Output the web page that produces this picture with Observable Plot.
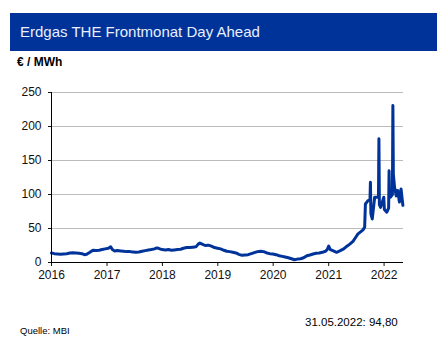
<!DOCTYPE html>
<html>
<head>
<meta charset="utf-8">
<script src="https://cdn.jsdelivr.net/npm/d3@7"></script>
<script src="https://cdn.jsdelivr.net/npm/@observablehq/plot@0.6"></script>
<style>
  html, body { margin: 0; padding: 0; background: #fff; }
  body { width: 447px; height: 346px; position: relative; overflow: hidden; font-family: "Liberation Sans", Arial, sans-serif; }
  #titlebar { position: absolute; left: 10px; top: 13px; width: 427px; height: 38px; background: #003399; }
  #title { position: absolute; left: 10px; top: 10px; color: #e8efff; font-size: 15px; line-height: 18px; white-space: nowrap; }
  #unit { position: absolute; left: 17px; top: 55px; font-size: 12px; font-weight: bold; color: #000; }
  #chart { position: absolute; left: 0; top: 70px; }
  #source { position: absolute; left: 20px; top: 325px; font-size: 9.5px; color: #000; }
  #last { position: absolute; left: 305px; top: 316px; font-size: 11.5px; color: #000; white-space: nowrap; }
</style>
</head>
<body>
<div id="titlebar"><div id="title">Erdgas THE Frontmonat Day Ahead</div></div>
<div id="unit">€ / MWh</div>
<div id="chart"></div>
<div id="source">Quelle: MBI</div>
<div id="last">31.05.2022: 94,80</div>
<script>
const dates = [
  "2016-01-01","2016-01-20","2016-02-10","2016-03-01","2016-03-20","2016-04-10","2016-05-01","2016-05-20","2016-06-10","2016-06-30","2016-07-20","2016-08-05","2016-08-20","2016-09-10","2016-09-30","2016-10-20","2016-11-10","2016-11-30","2016-12-20",
  "2017-01-10","2017-01-25","2017-02-05","2017-02-20","2017-03-10","2017-04-01","2017-04-20","2017-05-10","2017-06-01","2017-06-20","2017-07-10","2017-07-30","2017-08-20","2017-09-10","2017-10-01","2017-10-20","2017-11-10","2017-11-25","2017-12-10","2017-12-30",
  "2018-01-20","2018-02-10","2018-03-01","2018-03-20","2018-04-10","2018-05-01","2018-05-20","2018-06-10","2018-06-30","2018-07-20","2018-08-10","2018-08-25","2018-09-05","2018-09-20","2018-10-10","2018-10-30","2018-11-20","2018-12-10","2018-12-30",
  "2019-01-20","2019-02-10","2019-03-01","2019-03-20","2019-04-10","2019-05-01","2019-05-20","2019-06-10","2019-06-30","2019-07-20","2019-08-10","2019-08-30","2019-09-20","2019-10-10","2019-10-30","2019-11-20","2019-12-10","2019-12-30",
  "2020-01-20","2020-02-10","2020-03-01","2020-03-20","2020-04-10","2020-05-01","2020-05-20","2020-06-10","2020-06-30","2020-07-20","2020-08-10","2020-08-30","2020-09-20","2020-10-10","2020-10-30","2020-11-20","2020-12-10","2020-12-22",
  "2021-01-01","2021-01-12","2021-02-01","2021-02-22","2021-03-15","2021-04-10","2021-05-01","2021-05-20","2021-06-10","2021-06-25","2021-07-13","2021-07-30","2021-08-15","2021-08-26","2021-08-31","2021-09-17","2021-09-30","2021-10-03","2021-10-06","2021-10-15","2021-10-31","2021-11-14","2021-11-25","2021-11-28","2021-12-01","2021-12-09","2021-12-30",
  "2022-01-03","2022-01-19","2022-01-31","2022-02-03","2022-02-06","2022-02-12","2022-02-25","2022-02-28","2022-03-03","2022-03-11","2022-03-22","2022-04-01","2022-04-12","2022-04-23","2022-05-05","2022-05-09"
];
const prices = [
  14,13,12.5,12,12.5,13,14,14.5,14,13.5,13,11.5,12,15,18,17.5,18,19,20,
  21,23,19,17,17.5,17,16.5,16,16,15.5,15,15.5,16.5,17.5,18.5,19,20,21.5,20.5,19,
  18.5,19,18,18.5,19,19.5,21,22,22,22.5,23,27,28.5,27,25,25.5,24,22,21,
  20,18,16.5,16,15,14,12,10.5,11,11.5,13,14.5,16,16.5,16,14,13,12.5,
  11.5,10,9,8,7,5.5,4,5,5.5,7,10,11,12.5,13.5,14,15,16.5,19,
  24,19,17,15,17,20,24,27,31,36,42,45,48,52,86,91,92,118,72,64,96,96,96,182,85,81,96,
  78,74,80,135,98,96,100,231,130,111,98,106,89,108,84
];
const yTicks = [0, 50, 100, 150, 200, 250];
const xStart = "2016-01-01", xEnd = "2022-05-09";

const data = dates.map((d, i) => ({date: new Date(d), value: prices[i]}));

const chart = Plot.plot({
  width: 447,
  height: 220,
  marginTop: 22,
  marginBottom: 28,
  marginLeft: 51,
  marginRight: 44,
  style: {fontFamily: "Liberation Sans, Arial, sans-serif", fontSize: "12px", color: "#111", background: "transparent"},
  x: {type: "utc", domain: [new Date(xStart), new Date(xEnd)]},
  y: {domain: [0, 250]},
  marks: [
    Plot.gridY(yTicks, {stroke: "#bcbcbc", strokeOpacity: 1, strokeWidth: 1}),
    Plot.axisY(yTicks, {tickSize: 3, tickPadding: 7, label: null, fontSize: 12}),
    Plot.axisX({ticks: "year", tickFormat: "%Y", tickSize: 4, tickPadding: 4, label: null, fontSize: 12}),
    Plot.line(data, {x: "date", y: "value", stroke: "#003399", strokeWidth: 3, strokeLinejoin: "round"}),
    Plot.ruleY([0], {stroke: "#000", strokeWidth: 1}),
    Plot.ruleX([new Date(xStart)], {stroke: "#000", strokeWidth: 1})
  ]
});
document.getElementById("chart").appendChild(chart);
</script>
</body>
</html>
